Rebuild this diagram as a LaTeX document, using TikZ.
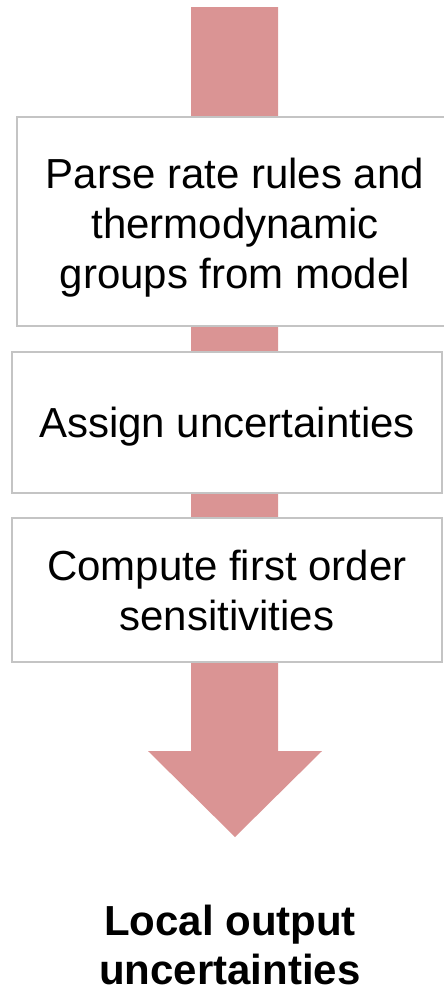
\documentclass[tikz,border=0pt]{standalone}
\usepackage{fontspec}
\setmainfont{Liberation Sans}
\definecolor{arrowred}{RGB}{218,148,148}
\definecolor{boxgray}{RGB}{196,196,196}
\tikzset{
  stepbox/.style={draw=boxgray, line width=2pt, fill=white, rectangle, inner sep=0pt},
  txt/.style={anchor=base, inner sep=0pt, font=\fontsize{42}{50}\selectfont},
  boldtxt/.style={anchor=base, inner sep=0pt, font=\fontsize{42}{50}\selectfont\bfseries}
}
\begin{document}
\begin{tikzpicture}[x=1pt,y=-1pt]
\useasboundingbox (0,0) rectangle (444,991);
% big arrow
\fill[arrowred] (191,7) -- (278,7) -- (278,751) -- (322,751) -- (235,837) -- (148,751) -- (191,751) -- cycle;
\coordinate (tip) at (235,837);
% boxes
\node[stepbox, minimum width=436pt, minimum height=209pt] (b1) at (235,221.5) {};
\node[stepbox, minimum width=430pt, minimum height=141pt] (b2) at (227,422.5) {};
\node[stepbox, minimum width=430pt, minimum height=144pt] (b3) at (227,590) {};
% texts
\node[txt] (t1a) at (235,188) {Parse rate rules and};
\node[txt] (t1b) at (235,238) {thermodynamic};
\node[txt] (t1c) at (235,288) {groups from model};
\node[txt] (t2) at (227,437) {Assign uncertainties};
\node[txt] (t3a) at (227,580) {Compute first order};
\node[txt] (t3b) at (227,630) {sensitivities};
\node[boldtxt] (o1) at (230,935) {Local output};
\node[boldtxt] (o2) at (230,984) {uncertainties};
\end{tikzpicture}
\end{document}
